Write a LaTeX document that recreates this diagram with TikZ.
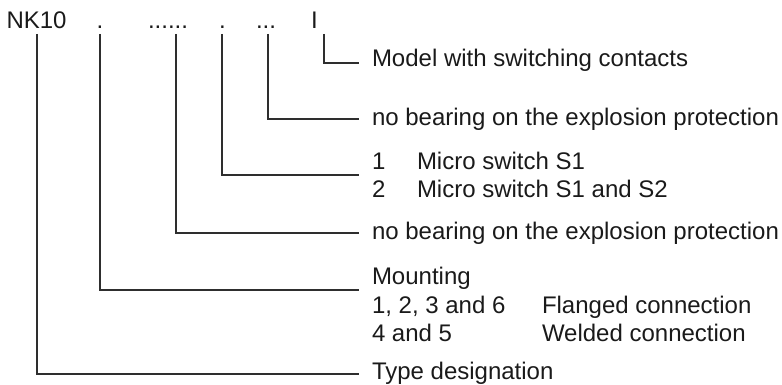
\documentclass[tikz,border=0pt]{standalone}
\usepackage{fontspec}
\setmainfont{Liberation Sans}
\definecolor{ink}{HTML}{1A1A1A}
\definecolor{wire}{HTML}{2E2E2E}
\begin{document}
\begin{tikzpicture}[x=1pt,y=-1pt,
  txt/.style={anchor=base west,inner sep=0pt,outer sep=0pt,text=ink,font=\fontsize{24}{28}\selectfont},
  wireline/.style={draw=wire,line width=1.3pt}]
\useasboundingbox (0,0) rectangle (782,385);
% code tokens
\node[txt] (t1) at (6.5,29) {NK10};
\node[txt] (t2) at (96.5,29) {.};
\node[txt] (t3) at (148,29) {......};
\node[txt] (t4) at (219,29) {.};
\node[txt] (t5) at (256,29) {...};
\node[txt] (t6) at (311,29) {I};
% labels
\node[txt] (l6) at (372,67) {Model with switching contacts};
\node[txt] (l5) at (372,126) {no bearing on the explosion protection};
\node[txt] (l4a) at (372,170) {1};
\node[txt] (l4b) at (417,170) {Micro switch S1};
\node[txt] (l4c) at (372,197) {2};
\node[txt] (l4d) at (417,197) {Micro switch S1 and S2};
\node[txt] (l3) at (372,239) {no bearing on the explosion protection};
\node[txt] (l2a) at (372,284) {Mounting};
\node[txt] (l2b) at (372,313) {1, 2, 3 and 6};
\node[txt] (l2c) at (542,313) {Flanged connection};
\node[txt] (l2d) at (372,341) {4 and 5};
\node[txt] (l2e) at (542,341) {Welded connection};
\node[txt] (l1) at (372,379) {Type designation};
% connector ends
\coordinate (c1) at (37,34);  \coordinate (e1) at (359,374);
\coordinate (c2) at (100,34); \coordinate (e2) at (359,290);
\coordinate (c3) at (176,34); \coordinate (e3) at (359,233);
\coordinate (c4) at (222,34); \coordinate (e4) at (359,175);
\coordinate (c5) at (268,34); \coordinate (e5) at (359,119);
\coordinate (c6) at (324,34); \coordinate (e6) at (359,63);
\draw[wireline] (c1) |- (e1);
\draw[wireline] (c2) |- (e2);
\draw[wireline] (c3) |- (e3);
\draw[wireline] (c4) |- (e4);
\draw[wireline] (c5) |- (e5);
\draw[wireline] (c6) |- (e6);
\end{tikzpicture}
\end{document}
